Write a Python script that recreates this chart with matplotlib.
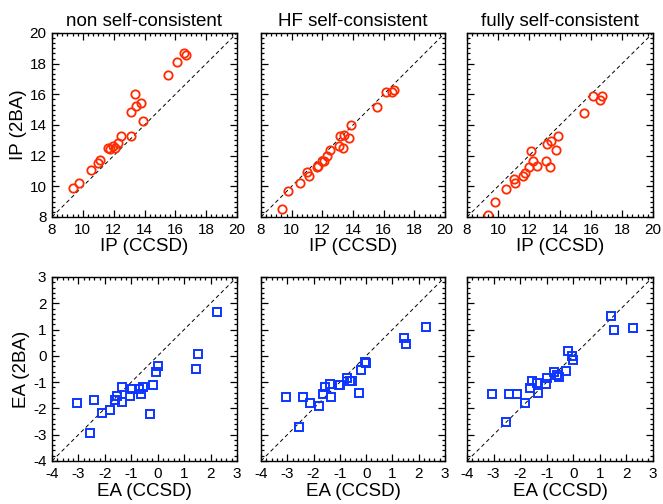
import matplotlib
matplotlib.use("Agg")
import matplotlib.pyplot as plt
from matplotlib.ticker import MultipleLocator, AutoMinorLocator

plt.rcParams['font.family'] = ['Liberation Sans', 'DejaVu Sans']
plt.rcParams['axes.unicode_minus'] = False

TITLES = ["non self-consistent", "HF self-consistent", "fully self-consistent"]

# ionisation potentials (eV)
ip_ccsd = [9.37, 9.78, 10.53, 11.0, 11.1, 11.63, 11.74, 11.98, 12.1, 12.28, 12.5,
           13.1, 13.15, 13.38, 13.42, 13.77, 13.9, 15.55, 16.13, 16.55, 16.7]
ip_nonsc = [9.89, 10.22, 11.09, 11.52, 11.74, 12.5, 12.46, 12.65, 12.5, 12.83, 13.26,
            13.26, 14.87, 16.04, 15.26, 15.43, 14.24, 17.28, 18.11, 18.7, 18.55]
ip_hfsc = [8.54, 9.67, 10.2, 10.91, 10.65, 11.24, 11.3, 11.63, 11.63, 12.0, 12.39,
           12.65, 13.3, 12.5, 13.37, 13.15, 14.02, 15.15, 16.15, 16.15, 16.3]
ip_fullsc = [8.15, 8.96, 9.8, 10.48, 10.22, 10.65, 10.87, 11.26, 12.28, 11.67, 11.35,
             11.67, 12.76, 11.24, 12.93, 12.35, 13.26, 14.76, 15.87, 15.61, 15.91]

# electron affinities (eV)
ea_ccsd = [-3.05, -2.42, -2.55, -2.12, -1.8, -1.63, -1.55, -1.37, -1.34, -1.04, -0.99,
           -0.72, -0.63, -0.55, -0.29, -0.19, -0.05, 0.0, 1.43, 1.52, 2.26]
ea_nonsc = [-1.80, -1.68, -2.93, -2.16, -2.06, -1.68, -1.51, -1.17, -1.74, -1.51, -1.26,
            -1.27, -1.45, -1.19, -2.21, -1.12, -0.63, -0.38, -0.49, 0.06, 1.68]
ea_hfsc = [-1.57, -1.55, -2.72, -1.78, -1.89, -1.46, -1.19, -1.08, -1.56, -1.12, -1.10,
           -0.85, -0.94, -0.94, -1.42, -0.53, -0.24, -0.28, 0.67, 0.45, 1.08]
ea_fullsc = [-1.47, -1.45, -2.50, -1.45, -1.80, -1.23, -0.95, -1.04, -1.42, -1.07, -0.85,
             -0.62, -0.72, -0.79, -0.58, 0.19, -0.02, -0.15, 1.53, 1.0, 1.06]

RED = "#ff2a00"
BLUE = "#0d35ff"

fig = plt.figure(figsize=(6.63, 5.04), dpi=100)

lefts = [52 / 663, 261 / 663, 467 / 663]
widths = [185 / 663, 184 / 663, 186 / 663]
bottoms = [1 - 217 / 504, 1 - 461 / 504]
height = 184 / 504


def style_axes(ax, lo, hi, major, nminor):
    ax.set_xlim(lo, hi)
    ax.set_ylim(lo, hi)
    ax.plot([lo, hi], [lo, hi], color="black", lw=0.7, ls=(0, (4, 3)))
    for axis in (ax.xaxis, ax.yaxis):
        axis.set_major_locator(MultipleLocator(major))
        axis.set_minor_locator(AutoMinorLocator(nminor))
    ax.tick_params(which="both", direction="in", top=True, right=True,
                   labelsize=11, width=0.9, pad=4)
    ax.tick_params(which="major", length=5)
    ax.tick_params(which="minor", length=2.5)
    for sp in ax.spines.values():
        sp.set_linewidth(1.0)


ip_sets = [ip_nonsc, ip_hfsc, ip_fullsc]
ea_sets = [ea_nonsc, ea_hfsc, ea_fullsc]

for i in range(3):
    ax = fig.add_axes([lefts[i], bottoms[0], widths[i], height])
    style_axes(ax, 8, 20, 2, 6)
    ax.plot(ip_ccsd, ip_sets[i], "o", mfc="none", mec=RED, ms=6, mew=1.3)
    ax.set_title(TITLES[i], fontsize=13.5, pad=5)
    ax.set_xlabel("IP (CCSD)", fontsize=13.5, labelpad=1)
    if i == 0:
        ax.set_ylabel("IP (2BA)", fontsize=13.5, labelpad=2)
    else:
        ax.set_yticklabels([])

    ax = fig.add_axes([lefts[i], bottoms[1], widths[i], height])
    style_axes(ax, -4, 3, 1, 5)
    ax.plot(ea_ccsd, ea_sets[i], "s", mfc="none", mec=BLUE, ms=5.5, mew=1.4)
    ax.set_xlabel("EA (CCSD)", fontsize=13.5, labelpad=2)
    if i == 0:
        ax.set_ylabel("EA (2BA)", fontsize=13.5, labelpad=2)
    else:
        ax.set_yticklabels([])

fig.savefig("out.png", dpi=100)
